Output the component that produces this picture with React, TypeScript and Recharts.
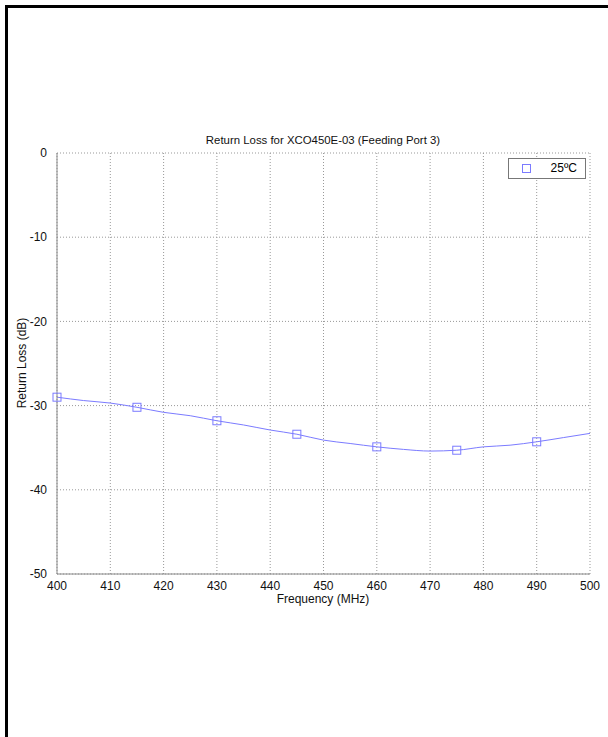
import { LineChart, Line, XAxis, YAxis, CartesianGrid } from 'recharts';

const freqs = [400, 405, 410, 415, 420, 425, 430, 435, 440, 445, 450, 455, 460, 465, 470, 475, 480, 485, 490, 495, 500];
const loss25 = [-29.0, -29.4, -29.7, -30.2, -30.8, -31.2, -31.8, -32.3, -32.9, -33.4, -34.1, -34.5, -34.9, -35.2, -35.4, -35.3, -34.9, -34.7, -34.3, -33.8, -33.3];
const markerFreqs = [400, 415, 430, 445, 460, 475, 490];
const xTicks = [400, 410, 420, 430, 440, 450, 460, 470, 480, 490, 500];
const yTicks = [-50, -40, -30, -20, -10, 0];

const data = freqs.map((f, i) => ({ freq: f, loss: loss25[i] }));

const LINE = '#7b7bff';
const FONT = '"Liberation Sans", Arial, sans-serif';

const SquareDot = (props: any) => {
  const { cx, cy, payload } = props;
  if (!markerFreqs.includes(payload.freq)) return <g key={payload.freq} />;
  return (
    <rect key={payload.freq} x={cx - 4} y={cy - 4} width={8} height={8} fill="none" stroke={LINE} strokeWidth={1} />
  );
};

const App = () => {
  return (
    <div style={{ position: 'absolute', left: 0, top: 0, width: 608, height: 737, background: '#fff' }}>
      <div style={{ position: 'absolute', left: 5, top: 5, width: 603, height: 2.5, background: '#000' }} />
      <div style={{ position: 'absolute', left: 5, top: 5, width: 2.5, height: 732, background: '#000' }} />
      <LineChart
        width={608}
        height={737}
        data={data}
        margin={{ top: 153, right: 18, left: 7, bottom: 133 }}
        style={{ fontFamily: FONT }}
      >
        <text x={323} y={144} textAnchor="middle" fontSize={11.4} fill="#111">
          Return Loss for XCO450E-03 (Feeding Port 3)
        </text>
        <text x={323} y={603} textAnchor="middle" fontSize={12} fill="#111">
          Frequency (MHz)
        </text>
        <text x={26} y={363} textAnchor="middle" fontSize={12} fill="#111" transform="rotate(-90 26 363)">
          Return Loss (dB)
        </text>
        <CartesianGrid stroke="#999" strokeDasharray="1 2" />
        <XAxis
          dataKey="freq"
          type="number"
          domain={[400, 500]}
          ticks={xTicks}
          interval={0}
          height={30}
          tickLine={false}
          axisLine={{ stroke: '#888' }}
          tick={{ fontSize: 12, fill: '#111' }}
          tickMargin={1}
        />
        <XAxis xAxisId="top" orientation="top" type="number" domain={[400, 500]} height={0} tick={false} tickLine={false} axisLine={{ stroke: '#888' }} />
        <YAxis
          type="number"
          domain={[-50, 0]}
          ticks={yTicks}
          interval={0}
          width={50}
          tickLine={false}
          axisLine={{ stroke: '#888' }}
          tick={{ fontSize: 12, fill: '#111' }}
          tickMargin={4}
        />
        <YAxis yAxisId="right" orientation="right" type="number" domain={[-50, 0]} width={0} tick={false} tickLine={false} axisLine={{ stroke: '#888' }} />
        <Line
          type="monotone"
          dataKey="loss"
          stroke={LINE}
          strokeWidth={1}
          dot={<SquareDot />}
          activeDot={false}
          isAnimationActive={false}
        />
      </LineChart>
      <div
        style={{
          position: 'absolute',
          left: 508,
          top: 158,
          width: 76,
          height: 19,
          border: '1px solid #777',
          background: '#fff',
          fontFamily: FONT,
          fontSize: 12,
        }}
      >
        <div style={{ position: 'absolute', left: 13, top: 5, width: 7, height: 7, border: `1px solid ${LINE}` }} />
        <div style={{ position: 'absolute', right: 8, top: 2, color: '#000' }}>25ºC</div>
      </div>
    </div>
  );
};

export default App;
